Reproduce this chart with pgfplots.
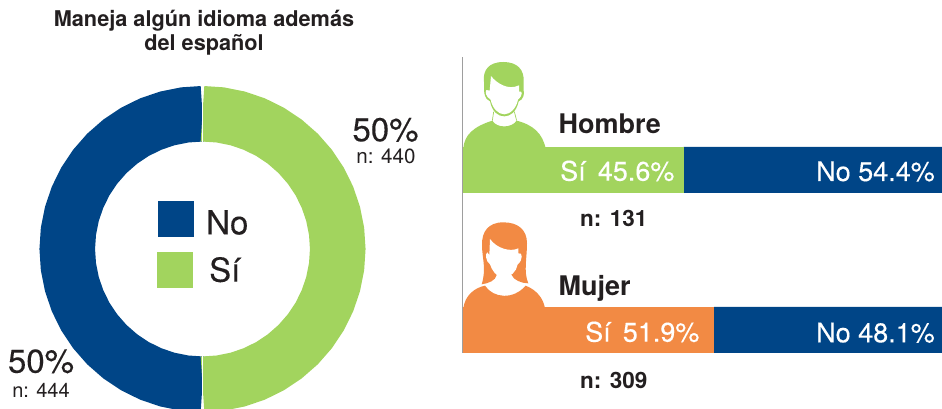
\documentclass[border=0pt]{standalone}
\usepackage{pgfplots}
\pgfplotsset{compat=1.18}
\usepackage{fontspec}
\setmainfont{TeX Gyre Heros}
\newfontfamily\med[FakeBold=0.25]{TeX Gyre Heros}
\definecolor{azul}{HTML}{004587}
\definecolor{verde}{HTML}{A2D45E}
\definecolor{naranja}{HTML}{F28A44}
\definecolor{texto}{HTML}{231F20}
\newcommand{\fs}[1]{\fontsize{#1}{#1}\selectfont}
\begin{document}
\begin{tikzpicture}
\path[use as bounding box] (0,0) rectangle (942pt,409pt);
% donut: each half = 50 % of the answers, angles in degrees
\begin{axis}[at={(0pt,0pt)},anchor=south west,scale only axis,x=1pt,y=1pt,
  xmin=-202.5,xmax=739.5,ymin=-160,ymax=249,hide axis]
\addplot[azul,line width=55.5pt,line cap=butt,data cs=polar,no markers] coordinates {
(90,135.25)(97.5,135.25)(105,135.25)(112.5,135.25)(120,135.25)(127.5,135.25)(135,135.25)(142.5,135.25)(150,135.25)(157.5,135.25)(165,135.25)(172.5,135.25)(180,135.25)(187.5,135.25)(195,135.25)(202.5,135.25)(210,135.25)(217.5,135.25)(225,135.25)(232.5,135.25)(240,135.25)(247.5,135.25)(255,135.25)(262.5,135.25)(270,135.25)};
\addplot[verde,line width=55.5pt,line cap=butt,data cs=polar,no markers] coordinates {
(90,135.25)(82.5,135.25)(75,135.25)(67.5,135.25)(60,135.25)(52.5,135.25)(45,135.25)(37.5,135.25)(30,135.25)(22.5,135.25)(15,135.25)(7.5,135.25)(0,135.25)(-7.5,135.25)(-15,135.25)(-22.5,135.25)(-30,135.25)(-37.5,135.25)(-45,135.25)(-52.5,135.25)(-60,135.25)(-67.5,135.25)(-75,135.25)(-82.5,135.25)(-90,135.25)};
\addplot[white,line width=1.5pt,no markers] coordinates {(0,-170)(0,170)};
\end{axis}
% stacked bars
\begin{axis}[at={(462.5pt,56pt)},anchor=south west,scale only axis,x=4.85pt,y=160pt,
  xmin=0,xmax=98.87,ymin=-0.14375,ymax=1.70625,
  xbar stacked,bar width=46pt,axis on top,
  axis y line=left,axis x line=none,ytick=\empty,
  axis line style={-,draw=black!38,line width=1pt}]
\addplot[fill=verde,draw=none] coordinates {(45.6,1)(0,0)};
\addplot[fill=naranja,draw=none] coordinates {(0,1)(51.9,0)};
\addplot[fill=azul,draw=none] coordinates {(54.4,1)(48.1,0)};
\end{axis}
% man icon
\begin{scope}[x=0.33333pt,y=-0.33333pt,shift={(455pt,359pt)}]
\fill[verde] (25,295) .. controls (28,255) and (55,230) .. (112,212) .. controls (125,235) and (170,235) .. (185,212) .. controls (235,225) and (262,250) .. (272,295) -- cycle;
\fill[verde] (145,36) .. controls (100,36) and (83,62) .. (87,95) -- (87,122) .. controls (90,150) and (100,150) .. (105,154) .. controls (112,187) and (130,199) .. (148,199) .. controls (165,199) and (184,187) .. (191,154) .. controls (205,150) and (209,130) .. (206,122) -- (206,95) .. controls (208,60) and (188,36) .. (145,36) -- cycle;
\fill[white] (108,78) .. controls (125,100) and (160,122) .. (192,106) -- (192,125) .. controls (202,120) and (205,135) .. (189,149) .. controls (184,175) and (165,193) .. (148,193) .. controls (130,193) and (112,175) .. (107,149) .. controls (92,140) and (90,125) .. (94,120) -- (104,122) -- cycle;
\draw[verde,line width=0.7pt] (116,185) -- (112,212) (178,185) -- (185,212);
\end{scope}
% woman icon
\begin{scope}[x=0.33333pt,y=-0.33333pt,shift={(455pt,194pt)}]
\fill[naranja] (145,22) .. controls (100,22) and (80,50) .. (81,90) .. controls (81,130) and (95,160) .. (80,208) .. controls (100,205) and (122,197) .. (125,180) -- (170,180) .. controls (175,195) and (200,205) .. (220,205) .. controls (205,170) and (216,130) .. (216,85) .. controls (216,45) and (190,22) .. (145,22) -- cycle;
\fill[naranja] (25,280) .. controls (30,240) and (60,218) .. (90,212) .. controls (115,250) and (175,255) .. (212,212) .. controls (245,225) and (265,250) .. (270,280) -- cycle;
\fill[white] (105,72) .. controls (125,100) and (165,112) .. (190,100) -- (190,115) .. controls (203,110) and (205,135) .. (188,148) .. controls (185,170) and (165,188) .. (145,188) .. controls (125,188) and (110,165) .. (105,148) .. controls (92,140) and (90,115) .. (97,112) -- (103,120) -- cycle;
\end{scope}
% texts, in picture pixels from the top
\begin{scope}[x=1pt,y=-1pt,shift={(0pt,409pt)},every node/.style={inner sep=0pt,text=texto}]
\node[anchor=base,font=\fs{21.7}\bfseries] at (204,27) {Maneja algún idioma además};
\node[anchor=base,font=\fs{21.7}\bfseries] at (204,51) {del español};
\node[anchor=base,font=\fs{33}\med] at (385.5,141.2) {50\%};
\node[anchor=base,font=\fs{20.6}] at (386,164) {n: 440};
\node[anchor=base,font=\fs{33}\med] at (41,372.7) {50\%};
\node[anchor=base,font=\fs{20}] at (41,397.5) {n: 444};
\fill[azul] (158,201) rectangle (194,237);
\fill[verde] (157,252) rectangle (193,288);
\node[anchor=base west,font=\fs{33}\med] at (206,234.3) {No};
\node[anchor=base west,font=\fs{33}\med] at (209,281.7) {Sí};
\node[anchor=base west,font=\fs{27}\bfseries] at (558.5,134) {Hombre};
\node[anchor=base west,font=\fs{27}\bfseries] at (558.5,295.3) {Mujer};
\node[anchor=base west,font=\fs{22.5}\bfseries] at (580,227) {n: 131};
\node[anchor=base west,font=\fs{22.5}\bfseries] at (580,389) {n: 309};
\node[anchor=base west,font=\fs{27}\med,text=white] at (560,180.7) {Sí\hspace{0.45em}45.6\%};
\node[anchor=base west,font=\fs{27}\med,text=white] at (585,341.7) {Sí\hspace{0.45em}51.9\%};
\node[anchor=base west,font=\fs{27}\med,text=white] at (816,181) {No 54.4\%};
\node[anchor=base west,font=\fs{27}\med,text=white] at (816,342.3) {No 48.1\%};
\end{scope}
\end{tikzpicture}
\end{document}
